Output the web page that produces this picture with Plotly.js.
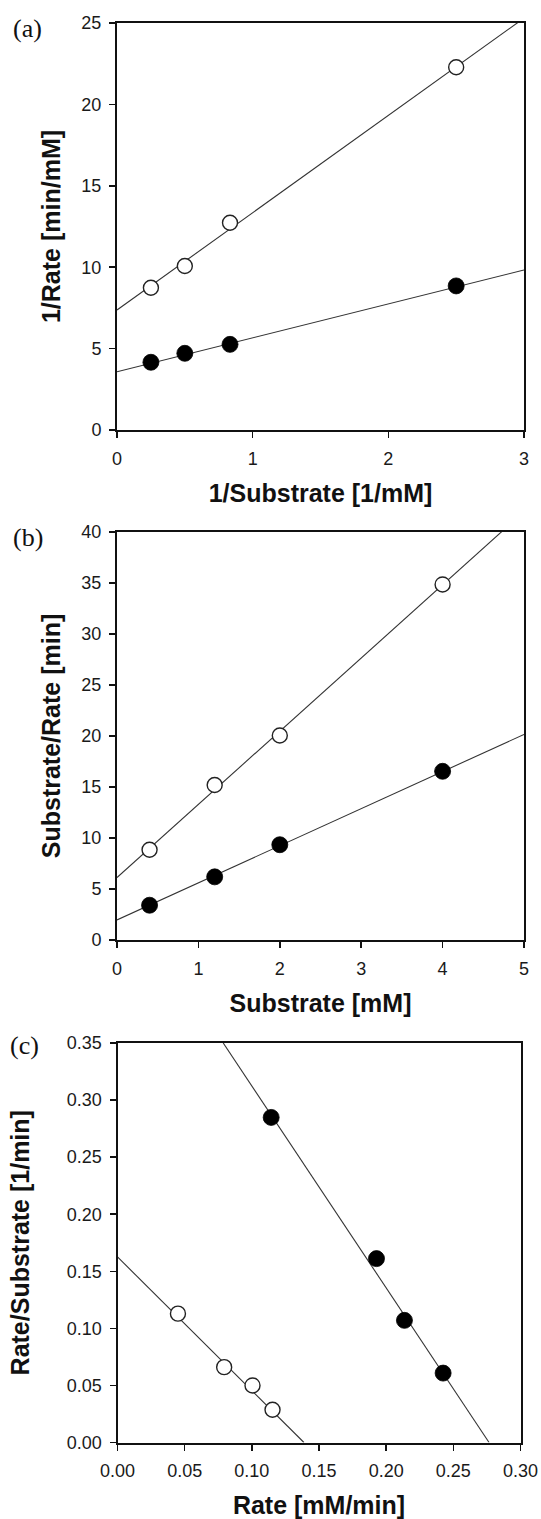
<!DOCTYPE html>
<html>
<head>
<meta charset="utf-8">
<script src="https://cdn.plot.ly/plotly-3.0.1.min.js"></script>
<style>html,body{margin:0;padding:0;background:#fff;}#chart{width:541px;height:1519px;}</style>
</head>
<body>
<div id="chart"></div>
<script>
// ---- Panel (a): Lineweaver-Burk ----
const aX = [0.25, 0.5, 0.833, 2.5];
const aOpenY = [8.74, 10.07, 12.73, 22.28];
const aFilledY = [4.16, 4.71, 5.26, 8.85];
const aFitX = [0, 3];
const aOpenFitY = [7.37, 25.3];
const aFilledFitY = [3.58, 9.83];

// ---- Panel (b): Hanes-Woolf ----
const bX = [0.4, 1.2, 2.0, 4.0];
const bOpenY = [8.85, 15.2, 20.05, 34.86];
const bFilledY = [3.41, 6.19, 9.34, 16.54];
const bFitX = [0, 5];
const bOpenFitY = [6.12, 42.0];
const bFilledFitY = [1.97, 20.15];

// ---- Panel (c): Eadie-Hofstee ----
const cOpenX = [0.045, 0.0794, 0.1005, 0.1154];
const cOpenY = [0.1129, 0.066, 0.050, 0.0287];
const cFilledX = [0.1144, 0.1928, 0.2136, 0.2424];
const cFilledY = [0.2848, 0.1611, 0.107, 0.0608];
const cOpenFitX = [0, 0.1388];
const cOpenFitY = [0.1626, 0];
const cFilledFitX = [0.0787, 0.2766];
const cFilledFitY = [0.35, 0];

const panelLabels = ['(a)', '(b)', '(c)'];
const xTitles = ['1/Substrate [1/mM]', 'Substrate [mM]', 'Rate [mM/min]'];
const yTitles = ['1/Rate [min/mM]', 'Substrate/Rate [min]', 'Rate/Substrate [1/min]'];

const W = 541, H = 1519;
const lineStyle = {color: '#333', width: 1.1};
const openMarker = {symbol: 'circle', size: 15, color: '#fff', line: {color: '#222', width: 1.4}};
const filledMarker = {symbol: 'circle', size: 16, color: '#000', line: {color: '#000', width: 0.8}};

function fit(x, y, xa, ya) {
  return {x: x, y: y, xaxis: xa, yaxis: ya, mode: 'lines', line: lineStyle, hoverinfo: 'skip', showlegend: false};
}
function pts(x, y, xa, ya, m) {
  return {x: x, y: y, xaxis: xa, yaxis: ya, mode: 'markers', marker: m, cliponaxis: false, showlegend: false};
}

const traces = [
  fit(aFitX, aOpenFitY, 'x', 'y'), fit(aFitX, aFilledFitY, 'x', 'y'),
  pts(aX, aOpenY, 'x', 'y', openMarker), pts(aX, aFilledY, 'x', 'y', filledMarker),
  fit(bFitX, bOpenFitY, 'x2', 'y2'), fit(bFitX, bFilledFitY, 'x2', 'y2'),
  pts(bX, bOpenY, 'x2', 'y2', openMarker), pts(bX, bFilledY, 'x2', 'y2', filledMarker),
  fit(cOpenFitX, cOpenFitY, 'x3', 'y3'), fit(cFilledFitX, cFilledFitY, 'x3', 'y3'),
  pts(cOpenX, cOpenY, 'x3', 'y3', openMarker), pts(cFilledX, cFilledY, 'x3', 'y3', filledMarker)
];

const tickFont = {family: 'Liberation Sans, Arial, sans-serif', size: 18, color: '#1a1a1a'};
const titleFont = {family: 'Liberation Sans, Arial, sans-serif', size: 25, color: '#111', weight: 'bold'};

function axisBase(dom, range, dtick, fmt, anchor, title, standoff, labelStandoff) {
  return {domain: dom, range: range, dtick: dtick, tick0: 0, tickformat: fmt, anchor: anchor,
    showline: true, linecolor: '#111', linewidth: 2, mirror: true, ticks: 'outside', ticklen: 6,
    tickwidth: 1.5, tickcolor: '#111', showgrid: false, zeroline: false, tickfont: tickFont,
    ticklabelstandoff: labelStandoff,
    title: {text: '<b>' + title + '</b>', font: titleFont, standoff: standoff}, automargin: false, fixedrange: true};
}
const xdAB = [117 / W, 524 / W];
const xdC = [117.5 / W, 520.5 / W];
const yd = (top, bot) => [1 - bot / H, 1 - top / H];

const layout = {
  width: W, height: H,
  margin: {l: 0, r: 0, t: 0, b: 0},
  paper_bgcolor: '#fff', plot_bgcolor: '#fff',
  showlegend: false,
  xaxis: axisBase(xdAB, [0, 3], 1, 'd', 'y', xTitles[0], 17, 5),
  yaxis: axisBase(yd(23, 430), [0, 25], 5, 'd', 'x', yTitles[0], 14, 4),
  xaxis2: axisBase(xdAB, [0, 5], 1, 'd', 'y2', xTitles[1], 17, 5),
  yaxis2: axisBase(yd(532, 940), [0, 40], 5, 'd', 'x2', yTitles[1], 14, 4),
  xaxis3: axisBase(xdC, [0, 0.3], 0.05, '.2f', 'y3', xTitles[2], 17, 5),
  yaxis3: axisBase(yd(1043, 1442.5), [0, 0.35], 0.05, '.2f', 'x3', yTitles[2], 30, 4),
  annotations: [
    {text: panelLabels[0], x: 11 / W, y: 1 - 28.5 / H},
    {text: panelLabels[1], x: 11 / W, y: 1 - 537 / H},
    {text: panelLabels[2], x: 8 / W, y: 1 - 1045 / H}
  ].map(a => Object.assign({xref: 'paper', yref: 'paper', xanchor: 'left', yanchor: 'middle', showarrow: false,
    font: {family: 'Liberation Serif, Times New Roman, serif', size: 26, color: '#111'}}, a))
};

Plotly.newPlot('chart', traces, layout, {displayModeBar: false, staticPlot: true});
</script>
</body>
</html>
